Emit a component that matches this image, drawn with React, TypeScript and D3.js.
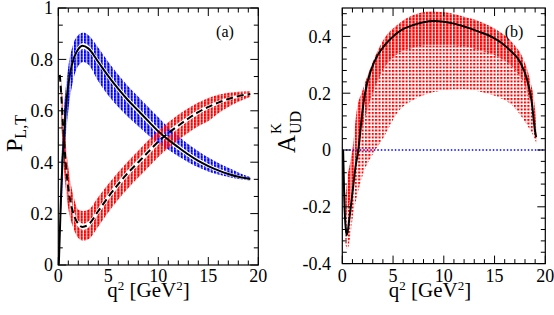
import React from "react";
import * as d3 from "d3";

// ---------- ticks ----------
const xTicksMajor = [0, 5, 10, 15, 20];
const xTickLabels = ["0", "5", "10", "15", "20"];
const xTicksMinor = [1, 2, 3, 4, 6, 7, 8, 9, 11, 12, 13, 14, 16, 17, 18, 19];
const yTicksMajorL = [0, 0.2, 0.4, 0.6, 0.8, 1];
const yLabelsL = ["0", "0.2", "0.4", "0.6", "0.8", "1"];
const yTicksMinorL = [0.0667, 0.1333, 0.2667, 0.3333, 0.4667, 0.5333, 0.6667, 0.7333, 0.8667, 0.9333];
const yTicksMajorR = [-0.4, -0.2, 0, 0.2, 0.4];
const yLabelsR = ["-0.4", "-0.2", "0", "0.2", "0.4"];
const yTicksMinorR = [-0.36, -0.32, -0.28, -0.24, -0.16, -0.12, -0.08, -0.04, 0.04, 0.08, 0.12, 0.16, 0.24, 0.28, 0.32, 0.36, 0.44, 0.48];

// ---------- panel (a): central curves ----------
const ptQ = [0.05, 0.15, 0.3, 0.45, 0.6, 0.9, 1.2, 1.6, 2.0, 2.4, 3.0, 4, 5, 6, 7, 8, 9, 10, 11, 12, 13, 14, 15, 16, 17, 18, 19.2];
const ptVal = [0.0, 0.12, 0.3, 0.42, 0.52, 0.67, 0.75, 0.81, 0.84, 0.853, 0.843, 0.79, 0.735, 0.685, 0.64, 0.6, 0.56, 0.52, 0.487, 0.458, 0.43, 0.405, 0.385, 0.368, 0.354, 0.343, 0.335];
const plQ = [0.15, 0.3, 0.45, 0.6, 0.9, 1.2, 1.6, 2.0, 2.4, 3.0, 4, 5, 6, 7, 8, 9, 10, 11, 12, 13, 14, 15, 16, 17, 18, 19.2];
const plVal = [0.74, 0.66, 0.56, 0.47, 0.33, 0.25, 0.19, 0.16, 0.148, 0.157, 0.21, 0.265, 0.315, 0.36, 0.4, 0.44, 0.48, 0.513, 0.542, 0.57, 0.595, 0.615, 0.632, 0.646, 0.657, 0.665];

// ---------- panel (a): scan bands ----------
const bandQ = [0.3, 0.6, 1.0, 1.5, 2.0, 2.5, 3.0, 4, 5, 6, 7, 8, 9, 10, 11, 12, 13, 14, 15, 16, 17, 18, 19.2];
const blueOuterHi = [0.4, 0.62, 0.77, 0.86, 0.895, 0.905, 0.895, 0.845, 0.79, 0.74, 0.695, 0.655, 0.615, 0.575, 0.535, 0.502, 0.47, 0.443, 0.418, 0.397, 0.378, 0.36, 0.342];
const blueInnerHi = [0.32, 0.54, 0.715, 0.808, 0.852, 0.864, 0.855, 0.802, 0.747, 0.697, 0.652, 0.612, 0.572, 0.532, 0.498, 0.469, 0.44, 0.415, 0.394, 0.376, 0.361, 0.349, 0.338];
const blueInnerLo = [0.28, 0.5, 0.685, 0.783, 0.828, 0.84, 0.831, 0.778, 0.723, 0.673, 0.628, 0.588, 0.548, 0.508, 0.476, 0.447, 0.42, 0.396, 0.377, 0.361, 0.348, 0.338, 0.332];
const blueOuterLo = [0.2, 0.42, 0.6, 0.72, 0.775, 0.79, 0.78, 0.715, 0.66, 0.615, 0.575, 0.54, 0.505, 0.475, 0.448, 0.423, 0.4, 0.38, 0.364, 0.352, 0.342, 0.335, 0.329];
const redOuterHi = [0.72, 0.55, 0.38, 0.27, 0.215, 0.21, 0.215, 0.265, 0.315, 0.362, 0.405, 0.445, 0.485, 0.522, 0.555, 0.585, 0.61, 0.632, 0.65, 0.662, 0.67, 0.674, 0.676];
const redInnerHi = [0.675, 0.485, 0.315, 0.22, 0.172, 0.161, 0.169, 0.222, 0.277, 0.327, 0.372, 0.412, 0.452, 0.492, 0.525, 0.553, 0.58, 0.604, 0.623, 0.639, 0.652, 0.662, 0.668];
const redInnerLo = [0.645, 0.455, 0.285, 0.19, 0.148, 0.137, 0.145, 0.198, 0.253, 0.303, 0.348, 0.388, 0.428, 0.468, 0.501, 0.531, 0.56, 0.586, 0.607, 0.625, 0.64, 0.652, 0.662];
const redOuterLo = [0.55, 0.36, 0.22, 0.145, 0.105, 0.095, 0.1, 0.15, 0.205, 0.255, 0.3, 0.34, 0.38, 0.42, 0.455, 0.487, 0.515, 0.54, 0.56, 0.59, 0.615, 0.635, 0.655];

// ---------- panel (b) ----------
const aQ = [0.08, 0.2, 0.35, 0.45, 0.7, 1.0, 1.3, 1.58, 1.9, 2.24, 2.9, 3.5, 4.2, 5.0, 5.85, 7.0, 8.0, 9.0, 10, 11, 11.6, 12.5, 13.5, 14.9, 15.7, 16.5, 17.5, 18.17, 18.66, 19.0, 19.1];
const aVal = [0.0, -0.18, -0.28, -0.3, -0.24, -0.15, -0.06, 0.0, 0.11, 0.2, 0.288, 0.335, 0.37, 0.4, 0.423, 0.44, 0.45, 0.454, 0.452, 0.445, 0.439, 0.429, 0.416, 0.395, 0.377, 0.352, 0.311, 0.252, 0.17, 0.064, 0.045];
const aBandQ = [0.3, 0.5, 0.8, 1.1, 1.4, 2.0, 3.0, 4.0, 5.5, 7.0, 8.6, 10.3, 11.9, 13.6, 15.2, 16.8, 17.8, 18.5, 19.0, 19.15];
const aBandHi = [-0.17, -0.1, -0.04, 0.03, 0.135, 0.21, 0.31, 0.385, 0.443, 0.475, 0.488, 0.484, 0.47, 0.452, 0.423, 0.376, 0.323, 0.246, 0.14, 0.04];
const aBandMid = [-0.25, -0.22, -0.17, -0.1, -0.02, 0.08, 0.2, 0.28, 0.34, 0.36, 0.37, 0.37, 0.365, 0.35, 0.33, 0.29, 0.24, 0.17, 0.09, 0.03];
const aBandLo = [-0.33, -0.35, -0.3, -0.22, -0.17, -0.09, -0.015, 0.04, 0.135, 0.176, 0.2, 0.211, 0.214, 0.205, 0.188, 0.155, 0.11, 0.07, 0.035, 0.02];

const FONT = "'Liberation Serif', 'Times New Roman', Times, serif";

function Frame({ x, y, xMaj, xMin, yMaj, yMin }: any) {
  const [x0, x1] = x.range();
  const [yb, yt] = y.range();
  const M = 8, m = 4.5;
  const ls: any[] = [];
  xMaj.forEach((v: number, i: number) => {
    const px = x(v);
    ls.push(<line key={"xb" + i} x1={px} x2={px} y1={yb} y2={yb - M} />);
    ls.push(<line key={"xt" + i} x1={px} x2={px} y1={yt} y2={yt + M} />);
  });
  xMin.forEach((v: number, i: number) => {
    const px = x(v);
    ls.push(<line key={"xbm" + i} x1={px} x2={px} y1={yb} y2={yb - m} />);
    ls.push(<line key={"xtm" + i} x1={px} x2={px} y1={yt} y2={yt + m} />);
  });
  yMaj.forEach((v: number, i: number) => {
    const py = y(v);
    ls.push(<line key={"yl" + i} x1={x0} x2={x0 + M} y1={py} y2={py} />);
    ls.push(<line key={"yr" + i} x1={x1} x2={x1 - M} y1={py} y2={py} />);
  });
  yMin.forEach((v: number, i: number) => {
    const py = y(v);
    ls.push(<line key={"ylm" + i} x1={x0} x2={x0 + m} y1={py} y2={py} />);
    ls.push(<line key={"yrm" + i} x1={x1} x2={x1 - m} y1={py} y2={py} />);
  });
  return (
    <g stroke="#000" strokeWidth={1} fill="none">
      {ls}
      <rect x={x0} y={yt} width={x1 - x0} height={yb - yt} strokeWidth={1.2} />
    </g>
  );
}

function XTitle({ cx }: { cx: number }) {
  return (
    <text x={cx} y={297} fontSize={21} textAnchor="middle">
      q<tspan fontSize={13} dy={-7}>2</tspan><tspan dy={7}> [GeV</tspan><tspan fontSize={13} dy={-7}>2</tspan><tspan dy={7}>]</tspan>
    </text>
  );
}

export default function App() {
  const xL = d3.scaleLinear().domain([0, 20]).range([58.3, 258.3]);
  const yL = d3.scaleLinear().domain([0, 1]).range([265, 8]);
  const xR = d3.scaleLinear().domain([0, 20]).range([342.3, 545.3]);
  const yR = d3.scaleLinear().domain([-0.4, 0.5]).range([263.6, 8]);

  const bandL = (lo: number[], hi: number[]) =>
    d3.area<number>()
      .x((_, i) => xL(bandQ[i]))
      .y0((_, i) => yL(lo[i]))
      .y1((_, i) => yL(hi[i]))
      .curve(d3.curveMonotoneX)(lo) as string;

  const bandR = (lo: number[], hi: number[]) =>
    d3.area<number>()
      .x((_, i) => xR(aBandQ[i]))
      .y0((_, i) => yR(lo[i]))
      .y1((_, i) => yR(hi[i]))
      .curve(d3.curveMonotoneX)(lo) as string;

  const lineL = (q: number[], v: number[]) =>
    d3.line<number>().x((_, i) => xL(q[i])).y((d) => yL(d)).curve(d3.curveMonotoneX)(v) as string;
  const lineR = d3.line<number>().x((_, i) => xR(aQ[i])).y((d) => yR(d)).curve(d3.curveMonotoneX)(aVal) as string;

  const pL = xL(1 / 3) - xL(0);
  const pR = xR(1 / 3) - xR(0);

  return (
    <svg width={554} height={315} style={{ position: "absolute", left: 0, top: 0, background: "#fff", fontFamily: FONT }} fontFamily={FONT}>
      <defs>
        <pattern id="pb" patternUnits="userSpaceOnUse" x={xL(0) - 1} y={0} width={pL} height={3}>
          <rect x={0} y={0} width={2.2} height={2.8} fill="#0000ff" />
        </pattern>
        <pattern id="pr" patternUnits="userSpaceOnUse" x={xL(0) - 1} y={0} width={pL} height={3}>
          <rect x={0} y={0} width={2.2} height={2.8} fill="#ff0000" />
        </pattern>
        <pattern id="prd" patternUnits="userSpaceOnUse" x={xR(0) - 1} y={0} width={pR} height={3}>
          <rect x={0} y={0} width={2.3} height={2.7} fill="#ff0000" />
        </pattern>
        <pattern id="prs" patternUnits="userSpaceOnUse" x={xR(0) - 1} y={0} width={pR} height={3.5}>
          <rect x={0} y={0} width={2.1} height={2.0} fill="#ff0000" />
        </pattern>
      </defs>

      {/* panel (a) */}
      <path d={bandL(blueInnerHi, blueOuterHi)} fill="url(#pb)" />
      <path d={bandL(blueOuterLo, blueInnerLo)} fill="url(#pb)" />
      <path d={bandL(redInnerHi, redOuterHi)} fill="url(#pr)" />
      <path d={bandL(redOuterLo, redInnerLo)} fill="url(#pr)" />
      <path d={lineL(ptQ, ptVal)} fill="none" stroke="#000" strokeWidth={2} />
      <path d={lineL(plQ, plVal)} fill="none" stroke="#000" strokeWidth={2} strokeDasharray="7,4" />
      <Frame x={xL} y={yL} xMaj={xTicksMajor} xMin={xTicksMinor} yMaj={yTicksMajorL} yMin={yTicksMinorL} />
      <g fontSize={18} fill="#000">
        {xTicksMajor.map((v, i) => (
          <text key={"xl" + i} x={xL(v)} y={282} textAnchor="middle">{xTickLabels[i]}</text>
        ))}
        {yTicksMajorL.map((v, i) => (
          <text key={"yl" + i} x={53} y={yL(v)} dy="0.35em" textAnchor="end">{yLabelsL[i]}</text>
        ))}
      </g>
      <XTitle cx={148.5} />
      <g transform="translate(21.5,152) rotate(-90)">
        <text x={0} y={0} fontSize={24}>P<tspan fontSize={16} dy={4}>L,T</tspan></text>
      </g>
      <text x={225} y={37} fontSize={16} textAnchor="middle">(a)</text>

      {/* panel (b) */}
      <path d={bandR(aBandLo, aBandMid)} fill="url(#prs)" />
      <path d={bandR(aBandMid, aBandHi)} fill="url(#prd)" />
      <line x1={xR(0)} x2={xR(20)} y1={yR(0)} y2={yR(0)} stroke="#0000ff" strokeWidth={1.5} strokeDasharray="1.5,2" />
      <path d={lineR} fill="none" stroke="#000" strokeWidth={2} />
      <Frame x={xR} y={yR} xMaj={xTicksMajor} xMin={xTicksMinor} yMaj={yTicksMajorR} yMin={yTicksMinorR} />
      <g fontSize={18} fill="#000">
        {xTicksMajor.map((v, i) => (
          <text key={"xr" + i} x={xR(v)} y={282} textAnchor="middle">{xTickLabels[i]}</text>
        ))}
        {yTicksMajorR.map((v, i) => (
          <text key={"yr" + i} x={331} y={yR(v)} dy="0.35em" textAnchor="end">{yLabelsR[i]}</text>
        ))}
      </g>
      <XTitle cx={430} />
      <g transform="translate(295,153) rotate(-90)">
        <text x={0} y={0} fontSize={25}>A</text>
        <text x={19} y={-14} fontSize={15}>K</text>
        <text x={19} y={6} fontSize={16}>UD</text>
      </g>
      <text x={514} y={37} fontSize={16} textAnchor="middle">(b)</text>
    </svg>
  );
}
